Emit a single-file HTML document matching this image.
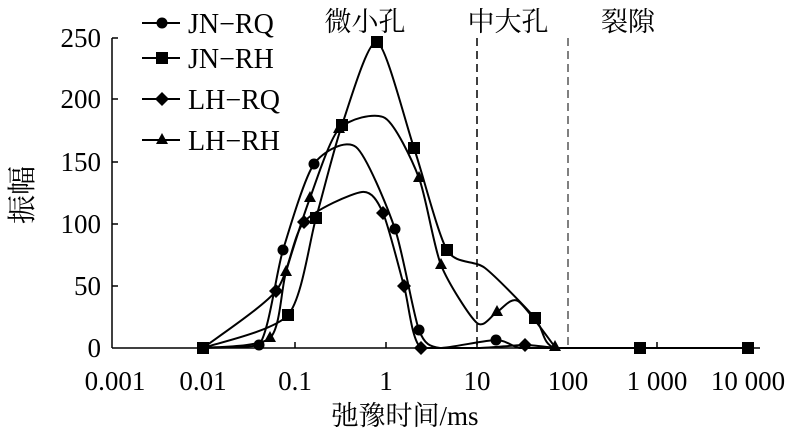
<!DOCTYPE html>
<html><head><meta charset="utf-8"><style>
body{margin:0;background:#fff}
svg text{font-family:"Liberation Serif","Noto Serif CJK SC",serif;fill:#000}
</style></head><body>
<svg id="s" width="800" height="438" xmlns="http://www.w3.org/2000/svg">
<g stroke="#000" stroke-width="1.5" fill="none">
<line x1="112" y1="38" x2="112" y2="348"/>
<line x1="112" y1="348" x2="760" y2="348"/>
<line x1="112" y1="38" x2="118" y2="38"/>
<line x1="112" y1="99" x2="118" y2="99"/>
<line x1="112" y1="162" x2="118" y2="162"/>
<line x1="112" y1="224" x2="118" y2="224"/>
<line x1="112" y1="286" x2="118" y2="286"/>
<line x1="203" y1="348" x2="203" y2="342"/>
<line x1="295" y1="348" x2="295" y2="342"/>
<line x1="386" y1="348" x2="386" y2="342"/>
<line x1="477" y1="348" x2="477" y2="342"/>
<line x1="657" y1="348" x2="657" y2="342"/>
<line x1="748" y1="348" x2="748" y2="342"/>
<line x1="477" y1="38" x2="477" y2="348" stroke-dasharray="8,5"/>
<line x1="568" y1="38" x2="568" y2="348" stroke-dasharray="8,5" stroke-width="1"/>
</g>
<g font-size="27" text-anchor="end">
<text x="101" y="47">250</text><text x="101" y="108">200</text><text x="101" y="171">150</text>
<text x="101" y="233">100</text><text x="101" y="295">50</text><text x="101" y="357">0</text>
</g>
<g font-size="27" text-anchor="middle">
<text x="115" y="390">0.001</text><text x="203" y="390">0.01</text><text x="295" y="390">0.1</text>
<text x="386" y="390">1</text><text x="477" y="390">10</text><text x="568" y="390">100</text>
<text x="657" y="390">1 000</text><text x="748" y="390">10 000</text>
<text x="405" y="425">弛豫时间/ms</text>
<text x="365" y="31">微小孔</text><text x="508" y="31">中大孔</text><text x="628" y="31">裂隙</text>
</g>
<text font-size="29" text-anchor="middle" transform="translate(32,195) rotate(-90)">振幅</text>
<g id="c" stroke="#000" stroke-width="2" fill="none"></g>
<g id="m" fill="#000"></g>
<g font-size="28">
<text x="188" y="33">JN−RQ</text><text x="188" y="68">JN−RH</text>
<text x="188" y="109">LH−RQ</text><text x="188" y="150">LH−RH</text>
</g>
</svg>
<script>
var S=[
 {t:'c',pts:[[203,348,0],[259,345,1],[283,250,1],[314,164,1],[356,147,0],[395,229,1],[419,330,1],[440,348,0],[496,340,1],[520,348,0],[555,348,0]],ly:23},
 {t:'s',pts:[[203,348,1],[288,315,1],[316,218,1],[342,125,1],[377,42,1],[414,148,1],[447,250,1],[485,268,0],[535,318,1],[555,348,0],[640,348,1],[748,348,1]],ly:58},
 {t:'d',pts:[[203,348,0],[276,291,1],[304,222,1],[362,192,0],[383,213,1],[404,286,1],[421,348,1],[480,348,0],[525,345,1],[555,348,0]],ly:99},
 {t:'t',pts:[[203,348,0],[270,338,1],[286,272,1],[310,198,1],[339,129,1],[385,118,0],[419,178,1],[441,265,1],[477,323,0],[497,312,1],[518,301,0],[555,347,1]],ly:140}
];
var K=8;
function path(p){var d='M'+p[0][0]+','+p[0][1];for(var i=0;i<p.length-1;i++){var p0=p[i-1]||p[i],p1=p[i],p2=p[i+1],p3=p[i+2]||p2;
var c1x=p1[0]+(p2[0]-p0[0])/K,c1y=Math.min(348,p1[1]+(p2[1]-p0[1])/K),c2x=p2[0]-(p3[0]-p1[0])/K,c2y=Math.min(348,p2[1]-(p3[1]-p1[1])/K);
d+=' C'+c1x+','+c1y+' '+c2x+','+c2y+' '+p2[0]+','+p2[1];}return d;}
function mk(t,x,y){var ns='http://www.w3.org/2000/svg',e;
if(t=='c'){e=document.createElementNS(ns,'circle');e.setAttribute('cx',x);e.setAttribute('cy',y);e.setAttribute('r',5.5);}
else if(t=='s'){e=document.createElementNS(ns,'rect');e.setAttribute('x',x-6);e.setAttribute('y',y-6);e.setAttribute('width',12);e.setAttribute('height',12);}
else if(t=='d'){e=document.createElementNS(ns,'polygon');e.setAttribute('points',(x)+','+(y-7)+' '+(x+7)+','+y+' '+x+','+(y+7)+' '+(x-7)+','+y);}
else {e=document.createElementNS(ns,'polygon');e.setAttribute('points',x+','+(y-7)+' '+(x+6)+','+(y+4)+' '+(x-6)+','+(y+4));}
document.getElementById('m').appendChild(e);}
S.forEach(function(s){var e=document.createElementNS('http://www.w3.org/2000/svg','path');e.setAttribute('d',path(s.pts));document.getElementById('c').appendChild(e);
s.pts.forEach(function(p){if(p[2])mk(s.t,p[0],p[1]);});
var l=document.createElementNS('http://www.w3.org/2000/svg','line');l.setAttribute('x1',142);l.setAttribute('x2',180);l.setAttribute('y1',s.ly);l.setAttribute('y2',s.ly);document.getElementById('c').appendChild(l);
mk(s.t,162,s.ly);});
</script>
</body></html>
